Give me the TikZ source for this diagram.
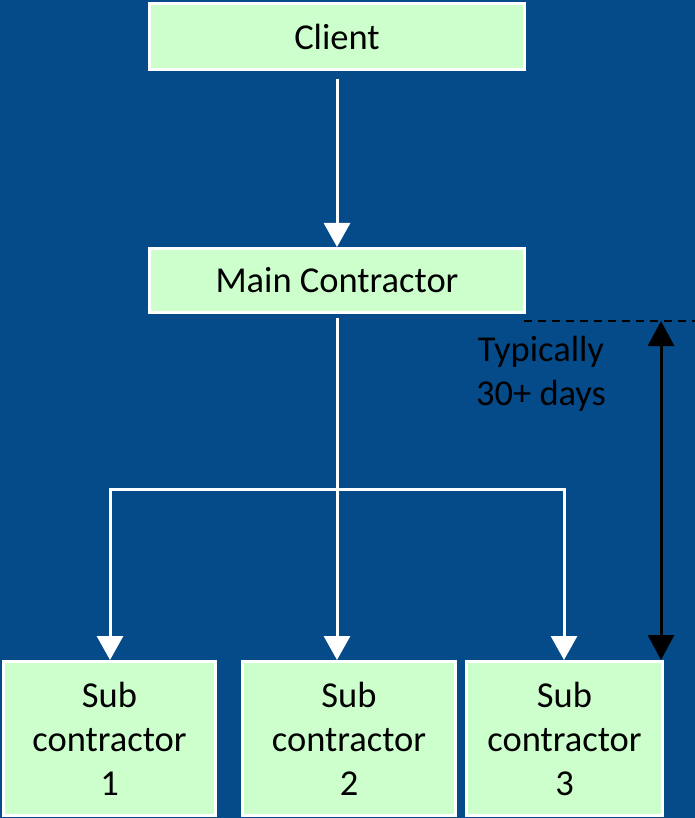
\documentclass[tikz,border=0pt]{standalone}
\usepackage{fontspec}
\setmainfont{Carlito}
\usetikzlibrary{arrows.meta}
\definecolor{bgblue}{RGB}{5,75,138}
\definecolor{boxgreen}{RGB}{204,255,204}
\tikzset{
  box/.style={draw=white, line width=3pt, fill=boxgreen, text=black, align=center,
    inner sep=0pt, font=\fontsize{36.5}{44}\selectfont},
  link/.style={draw=white, line width=3pt},
  linkarrow/.style={link, -{Triangle[width=26pt,length=24pt]}},
  spanline/.style={draw=black, line width=3pt,
    {Triangle[width=26pt,length=25pt]}-{Triangle[width=26pt,length=25pt]}},
  guide/.style={draw=black, line width=2pt, dash pattern=on 8pt off 6pt},
  note/.style={text=black, align=center, font=\fontsize{36.5}{44}\selectfont}
}
\begin{document}
\begin{tikzpicture}[x=1pt,y=-1pt]
  \fill[bgblue] (0,0) rectangle (695,818);
  \useasboundingbox (0,0) rectangle (695,818);
  \clip (0,0) rectangle (695,818);

  % boxes
  \node[box, minimum width=375pt, minimum height=66pt] (client) at (337,36.5) {Client};
  \node[box, minimum width=375pt, minimum height=64pt] (main) at (337,280.5) {Main Contractor};
  \node[box, minimum width=212pt, minimum height=154pt] (sub1) at (109.5,738.5) {Sub\\contractor\\1};
  \node[box, minimum width=213pt, minimum height=154pt] (sub2) at (349,738.5) {Sub\\contractor\\2};
  \node[box, minimum width=196pt, minimum height=154pt] (sub3) at (564.5,738.5) {Sub\\contractor\\3};

  % tree connectors
  \coordinate (hub) at (337,489);
  \draw[linkarrow] ([yshift=-8pt]client.south) -- (main.north);
  \draw[link] ([yshift=-4pt]main.south) -- (hub);
  \draw[linkarrow] (hub) -| ([xshift=0.5pt]sub1.north);
  \draw[linkarrow] (hub) -- (hub |- sub2.north);
  \draw[linkarrow] (hub) -| ([xshift=-0.5pt]sub3.north);

  % duration marker
  \coordinate (guideA) at (524,321);
  \coordinate (guideB) at (695,321);
  \coordinate (spanTop) at (661,321);
  \draw[guide] (guideA) -- (guideB);
  \draw[spanline] (spanTop) -- (spanTop |- sub3.north);
  \node[note] (days) at (541,374) {Typically\\30+ days};
\end{tikzpicture}
\end{document}
